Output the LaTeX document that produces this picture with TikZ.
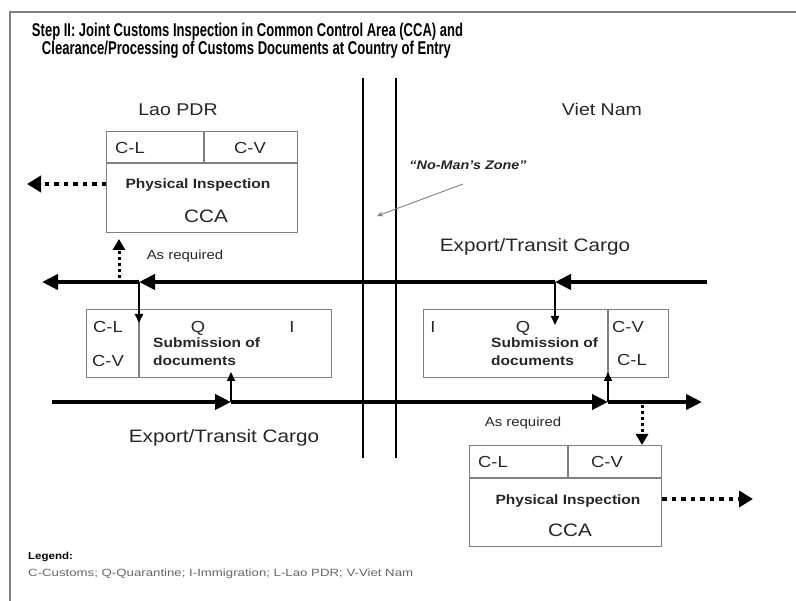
\documentclass[tikz,border=0pt]{standalone}
\usepackage{fontspec}
\setmainfont[FakeStretch=1.15]{Liberation Sans}
\usetikzlibrary{arrows.meta}
% stretch or squeeze a text horizontally to a given width
\newcommand{\fitw}[2]{\resizebox{#1}{\height}{#2}}
\definecolor{boxgray}{gray}{0.5}
\definecolor{inkgray}{gray}{0.15}
\definecolor{legendgray}{gray}{0.4}

\begin{document}
\begin{tikzpicture}[x=1pt,y=-1pt,
  txt/.style={inner sep=0pt, anchor=base, text=inkgray},
  country/.style={txt, font=\fontsize{17}{20}\selectfont},
  cell/.style={txt, font=\fontsize{16}{19}\selectfont},
  cca/.style={txt, font=\fontsize{18}{21}\selectfont},
  boldlbl/.style={txt, font=\bfseries\fontsize{13.5}{16}\selectfont},
  note/.style={txt, font=\fontsize{13}{16}\selectfont},
  box/.style={draw=boxgray, line width=1.4pt, inner sep=0pt, anchor=north west},
  divider/.style={draw=boxgray, line width=1.4pt},
  cargo/.style={line width=4pt, -{Triangle[length=16pt,width=15pt]}},
  feed/.style={line width=1.8pt, -{Triangle[length=9pt,width=8pt]}},
  dotted arrow/.style={line width=4.5pt, dash pattern=on 4.5pt off 5pt,
    -{Triangle[length=14pt,width=16pt]}},
  dotted feed/.style={line width=3pt, dash pattern=on 3pt off 3pt,
    -{Triangle[length=11pt,width=12pt]}},
  zone/.style={line width=2pt},
  heading/.style={txt, text=black, font=\bfseries\fontsize{18.5}{22}\selectfont},
]
\useasboundingbox (0,0) rectangle (796,601);

% frame
\draw[gray, line width=2pt] (10,601) -- (10,12) -- (796,12);

% title
\node[heading] (title1) at (247.5,37)
  {\fitw{431pt}{Step II: Joint Customs Inspection in Common Control Area (CCA) and}};
\node[heading] (title2) at (246.5,55)
  {\fitw{409pt}{Clearance/Processing of Customs Documents at Country of Entry}};

% border strip
\coordinate (zoneLt) at (363,78);
\coordinate (zoneLb) at (363,458);
\coordinate (zoneRt) at (396,78);
\coordinate (zoneRb) at (396,458);
\draw[zone] (zoneLt) -- (zoneLb);
\draw[zone] (zoneRt) -- (zoneRb);

\node[country] (lao) at (178,116) {Lao PDR};
\node[country] (vn) at (602,116) {Viet Nam};

\node[txt, font=\bfseries\itshape\fontsize{12.5}{15}\selectfont] (nomans) at (468,170) {``No-Man's Zone''};
\coordinate (nomansTail) at (463,184);
\coordinate (nomansTip) at (377,216);
\draw[gray, line width=0.9pt, -{Stealth[length=6pt,width=5pt]}] (nomansTail) -- (nomansTip);

% ---- Lao PDR inspection area
\node[box, minimum width=191, minimum height=101] (laoCCA) at (106,131) {};
\draw[divider] (106,163) -- (297,163);
\draw[divider] (204,131) -- (204,163);
\node[cell] (laoCCAcl) at (130,154) {C-L};
\node[cell] (laoCCAcv) at (250,154) {C-V};
\node[boldlbl] (laoPI) at (198,189) {Physical Inspection};
\node[cca] (laoCCAname) at (206,223) {CCA};

\coordinate (laoOut) at (27,184);
\draw[dotted arrow] (laoCCA.west |- laoOut) -- (laoOut);

\coordinate (laoReqA) at (119,278);
\coordinate (laoReqB) at (119,239);
\draw[dotted feed] (laoReqA) -- (laoReqB);
\node[note] (laoReq) at (185,260) {As required};

% ---- Lao PDR documents
\node[box, minimum width=245, minimum height=68] (laoDoc) at (86,309) {};
\draw[divider] (139,309) -- (139,377);
\node[cell] (laoDcl) at (108,333) {C-L};
\node[cell] (laoDcv) at (108,367) {C-V};
\node[cell] (laoDq) at (198,333) {Q};
\node[cell] (laoDi) at (292,333) {I};
\node[boldlbl, anchor=base west] (laoSub1) at (153,348) {Submission of};
\node[boldlbl, anchor=base west] (laoSub2) at (153,366) {documents};

% ---- Viet Nam documents
\node[box, minimum width=245, minimum height=68] (vnDoc) at (423,309) {};
\draw[divider] (608,309) -- (608,377);
\node[cell] (vnDi) at (433,333) {I};
\node[cell] (vnDq) at (523,333) {Q};
\node[cell] (vnDcv) at (628,333) {C-V};
\node[cell] (vnDcl) at (632,366) {C-L};
\node[boldlbl, anchor=base west] (vnSub1) at (491,348) {Submission of};
\node[boldlbl, anchor=base west] (vnSub2) at (491,366) {documents};

% ---- Viet Nam inspection area
\node[box, minimum width=192, minimum height=101] (vnCCA) at (469,445) {};
\draw[divider] (469,478) -- (661,478);
\draw[divider] (568,445) -- (568,478);
\node[cell] (vnCCAcl) at (493,468) {C-L};
\node[cell] (vnCCAcv) at (607,468) {C-V};
\node[boldlbl] (vnPI) at (568,505) {Physical Inspection};
\node[cca] (vnCCAname) at (570,537) {CCA};

\coordinate (vnOut) at (753,499);
\draw[dotted arrow] (vnCCA.east |- vnOut) -- (vnOut);
\node[note] (vnReq) at (523,427) {As required};

% ---- cargo flow towards Lao PDR (upper)
\coordinate (tR) at (707,282);
\coordinate (tJ2) at (555,282);
\coordinate (tJ1) at (139,282);
\coordinate (tL) at (42,282);
\draw[cargo] (tR) -- (tJ2);
\draw[cargo] (tJ2) -- (tJ1);
\draw[cargo] (tJ1) -- (tL);
\node[cca] (upperCargo) at (535,252) {Export/Transit Cargo};
\coordinate (laoDocIn) at (139,323);
\coordinate (vnDocIn) at (555,325);
\draw[feed] (tJ1) -- (laoDocIn);
\draw[feed] (tJ2) -- (vnDocIn);

% ---- cargo flow towards Viet Nam (lower)
\coordinate (bL) at (52,402);
\coordinate (bJ1) at (231,402);
\coordinate (bJ2) at (608,402);
\coordinate (bR) at (702,402);
\draw[cargo] (bL) -- (bJ1);
\draw[cargo] (bJ1) -- (bJ2);
\draw[cargo] (bJ2) -- (bR);
\node[cca] (lowerCargo) at (224,443) {Export/Transit Cargo};
\coordinate (laoDocUp) at (231,372);
\coordinate (vnDocUp) at (608,372);
\draw[feed] (bJ1) -- (laoDocUp);
\draw[feed] (bJ2) -- (vnDocUp);

\coordinate (vnReqA) at (642,405);
\draw[dotted feed] (vnReqA) -- (vnCCA.north -| vnReqA);

% legend
\node[txt, anchor=base west, text=black, font=\bfseries\fontsize{10}{12}\selectfont] (legendHead) at (28,560) {Legend:};
\node[txt, anchor=base west, text=legendgray, font=\fontsize{10.5}{12}\selectfont] (legendText) at (28,577)
  {\fitw{385pt}{C-Customs; Q-Quarantine; I-Immigration; L-Lao PDR; V-Viet Nam}};
\end{tikzpicture}
\end{document}
